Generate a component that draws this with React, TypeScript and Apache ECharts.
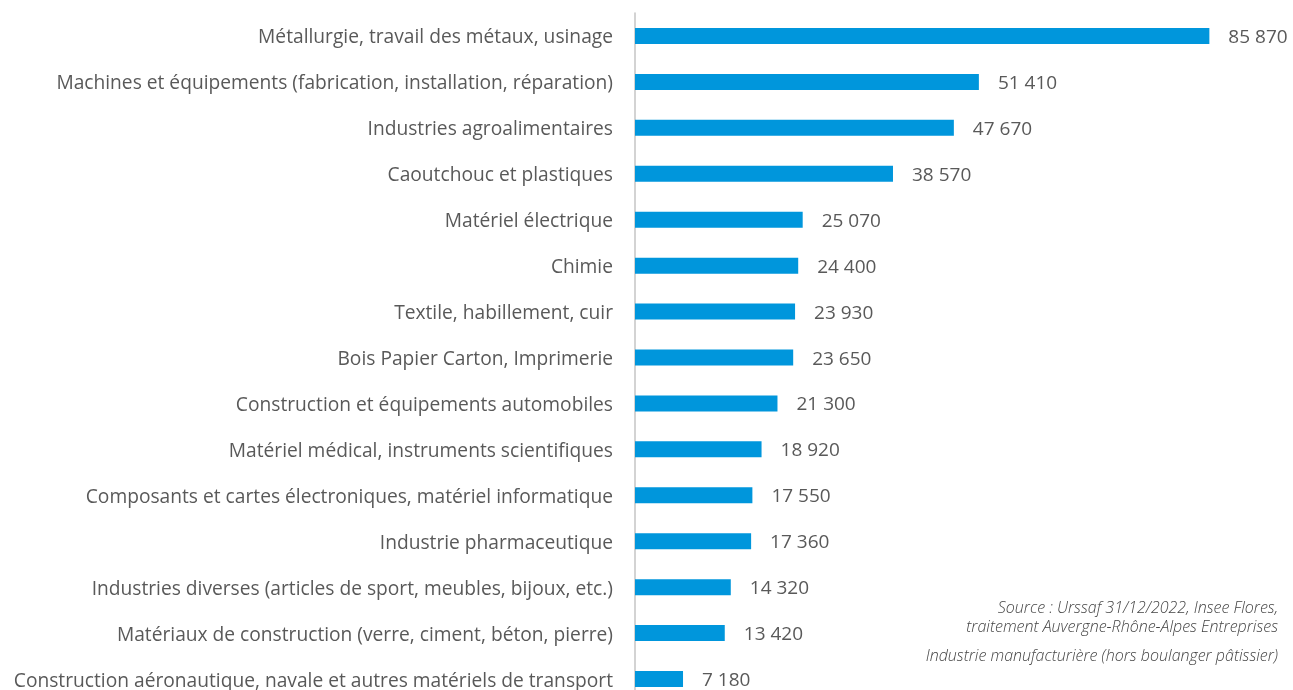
import React, { useEffect, useRef } from "react";
import * as echarts from "echarts";

const categories = [
  "Métallurgie, travail des métaux, usinage",
  "Machines et équipements (fabrication, installation, réparation)",
  "Industries agroalimentaires",
  "Caoutchouc et plastiques",
  "Matériel électrique",
  "Chimie",
  "Textile, habillement, cuir",
  "Bois Papier Carton, Imprimerie",
  "Construction et équipements automobiles",
  "Matériel médical, instruments scientifiques",
  "Composants et cartes électroniques, matériel informatique",
  "Industrie pharmaceutique",
  "Industries diverses (articles de sport, meubles, bijoux, etc.)",
  "Matériaux de construction (verre, ciment, béton, pierre)",
  "Construction aéronautique, navale et autres matériels de transport",
];

const values = [85870, 51410, 47670, 38570, 25070, 24400, 23930, 23650, 21300, 18920, 17550, 17360, 14320, 13420, 7180];

const sourceLines = [
  "Source : Urssaf 31/12/2022, Insee Flores,",
  "traitement Auvergne-Rhône-Alpes Entreprises",
];
const noteLine = "Industrie manufacturière (hors boulanger pâtissier)";

const fmt = (v: number) => String(v).replace(/\B(?=(\d{3})+(?!\d))/g, " ");

export default function App() {
  const ref = useRef<HTMLDivElement>(null);
  useEffect(() => {
    const chart = echarts.init(ref.current!, undefined, { renderer: "svg" });
    const noteFont = "italic 300 16px 'Open Sans'";
    chart.setOption({
      animation: false,
      grid: {
        left: 635,
        right: 56,
        top: 13,
        height: 689,
        containLabel: false,
        outerBoundsMode: "none",
      },
      xAxis: {
        type: "value",
        min: 0,
        max: 90000,
        show: false,
      },
      yAxis: {
        type: "category",
        data: categories,
        inverse: true,
        axisLine: { show: true, lineStyle: { color: "#c4c4c4", width: 1.5 } },
        axisTick: { show: false },
        axisLabel: {
          color: "#595959",
          fontFamily: "Open Sans",
          fontSize: 19.2,
          lineHeight: 19,
          margin: 22,
        },
      },
      series: [
        {
          type: "bar",
          data: values,
          barWidth: 16,
          itemStyle: { color: "#0096DC" },
          label: {
            show: true,
            position: "right",
            distance: 19,
            color: "#595959",
            fontFamily: "Open Sans",
            fontSize: 19,
            lineHeight: 19,
            formatter: (p: any) => fmt(p.value),
          },
        },
      ],
      graphic: [
        {
          type: "text",
          right: 15,
          top: 598,
          style: {
            text: sourceLines[0],
            textAlign: "right",
            font: noteFont,
            fill: "#444444",
            lineHeight: 18,
          },
        },
        {
          type: "text",
          right: 15,
          top: 617,
          style: {
            text: sourceLines[1],
            textAlign: "right",
            font: noteFont,
            fill: "#444444",
            lineHeight: 18,
          },
        },
        {
          type: "text",
          right: 15,
          top: 646,
          style: {
            text: noteLine,
            textAlign: "right",
            font: noteFont,
            fill: "#444444",
            lineHeight: 18,
          },
        },
      ],
    });
    return () => chart.dispose();
  }, []);
  return (
    <div
      ref={ref}
      style={{ position: "fixed", left: 0, top: 0, width: 1293, height: 690 }}
    />
  );
}
